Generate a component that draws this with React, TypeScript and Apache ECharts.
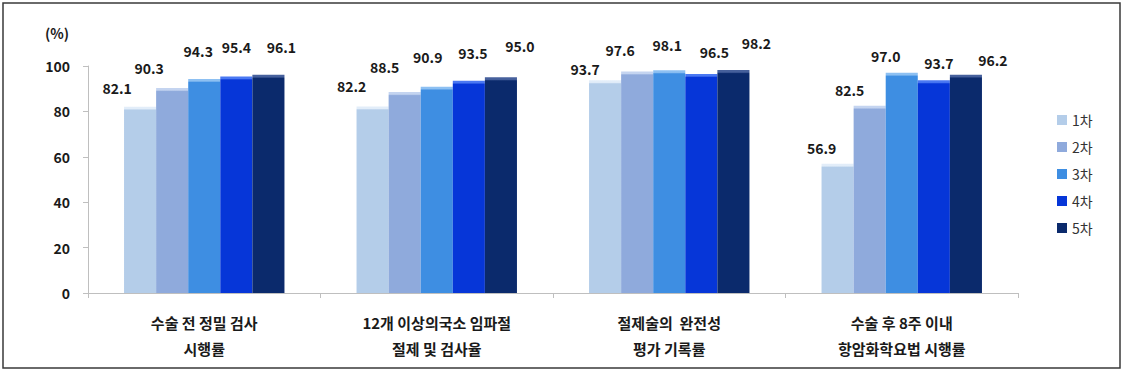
import React, { useEffect, useRef } from "react";
import * as echarts from "echarts";

const categories = [
  "수술 전 정밀 검사\n시행률",
  "12개 이상의국소 임파절\n절제 및 검사율",
  "절제술의  완전성\n평가 기록률",
  "수술 후 8주 이내\n항암화학요법 시행률",
];
const seriesNames = ["1차", "2차", "3차", "4차", "5차"];
const round1 = [82.1, 82.2, 93.7, 56.9];
const round2 = [90.3, 88.5, 97.6, 82.5];
const round3 = [94.3, 90.9, 98.1, 97.0];
const round4 = [95.4, 93.5, 96.5, 93.7];
const round5 = [96.1, 95.0, 98.2, 96.2];
const yTicks = [0, 20, 40, 60, 80, 100];

// styling: colors and label nudges (as in the source image)
const COLORS = ["#B4CDE9", "#8FAADC", "#3E8EE2", "#0636D8", "#0B2A6C"];
const TOPS = ["#E2EDF9", "#C4D4F0", "#8DC0F2", "#4A78F2", "#46609C"];
const LABEL_DX = [
  [-23, -21, -20, -16],
  [-23, -20, -17, -20],
  [-6, -9, -2, -16],
  [0, 4, 13, 5],
  [13, 19, 23, 27],
];
const LABEL_GAP = [
  [20, 21, 12, 17],
  [21, 26, 22, 17],
  [29, 31, 26, 18],
  [30, 29, 23, 18],
  [29, 32, 28, 16],
];
const PLOT_H = 227; // px height of the value range 0..100
const HIGHLIGHT_PX = 3.5;

const FONT = "'Noto Sans CJK KR', 'Noto Sans', sans-serif";

export default function App() {
  const ref = useRef<HTMLDivElement>(null);
  useEffect(() => {
    if (!ref.current) return;
    const chart = echarts.init(ref.current, undefined, { renderer: "svg" });
    const all = [round1, round2, round3, round4, round5];
    const series = all.map((vals, si) => ({
      name: seriesNames[si],
      type: "bar",
      barGap: "0%",
      barCategoryGap: "31%",
      itemStyle: { color: COLORS[si] },
      data: vals.map((v, ci) => {
        const h = (v / 100) * PLOT_H;
        const f = Math.min(0.5, HIGHLIGHT_PX / h);
        return {
          value: v,
          itemStyle: {
            color: new echarts.graphic.LinearGradient(0, 0, 0, 1, [
              { offset: 0, color: TOPS[si] },
              { offset: f * 0.6, color: TOPS[si] },
              { offset: f, color: COLORS[si] },
              { offset: 1, color: COLORS[si] },
            ]),
          },
          label: {
            offset: [LABEL_DX[si][ci], -(LABEL_GAP[si][ci] - 13)],
          },
        };
      }),
      label: {
        show: true,
        position: "top",
        distance: 5,
        formatter: (p: any) => Number(p.value).toFixed(1),
        fontFamily: FONT,
        fontWeight: "bold",
        fontSize: 14,
        color: "#1a1a1a",
      },
    }));
    chart.setOption({
      animation: false,
      backgroundColor: "#ffffff",
      grid: { left: 88, right: 106, top: 66, bottom: 81 },
      legend: {
        orient: "vertical",
        left: 1052,
        top: 108,
        itemWidth: 10,
        itemHeight: 10,
        itemGap: 13,
        icon: "rect",
        data: seriesNames.map((n, i) => ({
          name: n,
          itemStyle: { color: COLORS[i] },
        })),
        textStyle: {
          fontFamily: FONT,
          fontSize: 14,
          lineHeight: 14,
          color: "#333333",
        },
      },
      xAxis: {
        type: "category",
        data: categories,
        axisLine: { lineStyle: { color: "#bfbfbf", width: 1 } },
        axisTick: { show: true, length: 5, lineStyle: { color: "#bfbfbf" } },
        axisLabel: {
          fontFamily: FONT,
          fontWeight: "bold",
          fontSize: 15,
          lineHeight: 26,
          margin: 16,
          color: "#1a1a1a",
        },
      },
      yAxis: {
        type: "value",
        min: yTicks[0],
        max: yTicks[yTicks.length - 1],
        interval: 20,
        splitLine: { show: false },
        axisLine: { show: true, lineStyle: { color: "#bfbfbf" } },
        axisTick: { show: true, length: 5, lineStyle: { color: "#bfbfbf" } },
        axisLabel: {
          fontFamily: FONT,
          fontWeight: "bold",
          fontSize: 14,
          margin: 18,
          color: "#1a1a1a",
        },
      },
      graphic: [
        {
          type: "rect",
          shape: { x: 3, y: 3, width: 1117, height: 365 },
          style: { fill: "none", stroke: "#3a3a3a", lineWidth: 1.5 },
          silent: true,
        },
        {
          type: "text",
          x: 45,
          y: 33,
          style: {
            text: "(%)",
            fontFamily: FONT,
            fontWeight: "bold",
            fontSize: 14,
            fill: "#1a1a1a",
            verticalAlign: "middle",
          },
        },
      ],
      series,
    });
    return () => chart.dispose();
  }, []);
  return (
    <div
      ref={ref}
      style={{ position: "fixed", left: 0, top: 0, width: 1124, height: 374 }}
    />
  );
}
